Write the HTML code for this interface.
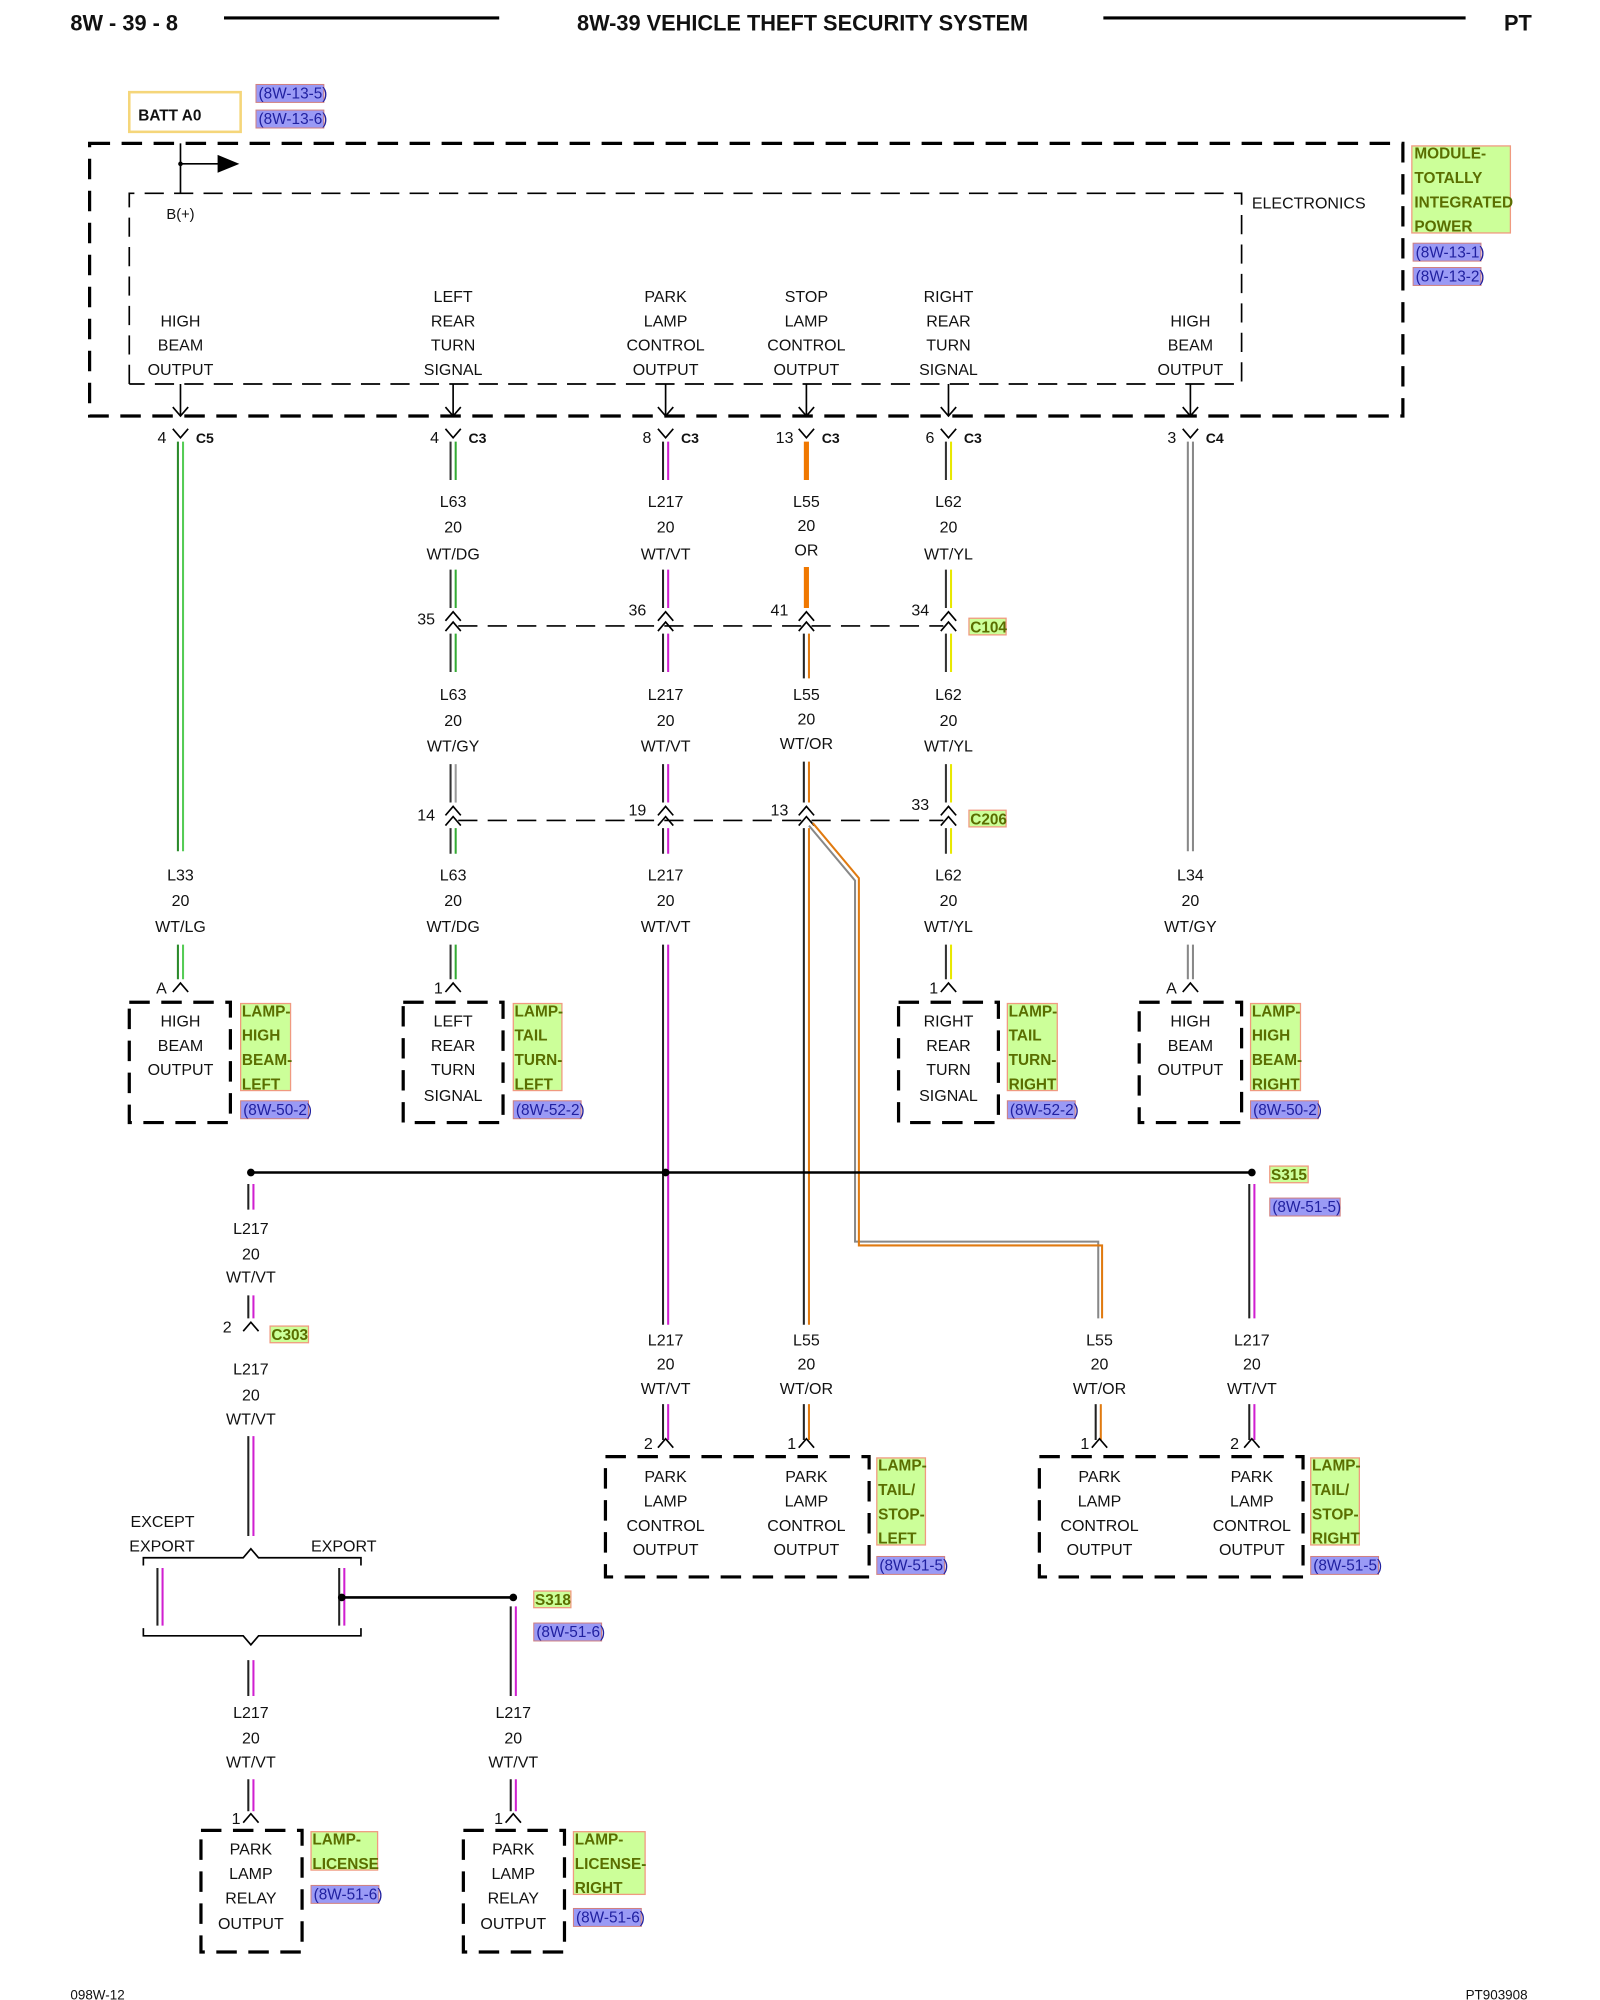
<!DOCTYPE html>
<html><head><meta charset="utf-8"><style>
html,body{margin:0;padding:0;background:#fff}
svg{display:block}
text{font-family:"Liberation Sans",sans-serif;font-size:12.5px;fill:#111}
.c{text-anchor:middle}
.b{font-weight:bold}
.d{fill:none;stroke:#000;stroke-width:2.5;stroke-dasharray:16 9}
.d2{fill:none;stroke:#000;stroke-width:1.3;stroke-dasharray:15 8}
.ln{fill:none;stroke:#000;stroke-width:1.3}
.g{fill:#ccff99;stroke:#f09a80;stroke-width:1}
.gt{fill:#5a6e00;font-weight:bold;font-size:12px}
.bl{fill:#9a9af5;stroke:#d08080;stroke-width:.8}
.bt{fill:#2020a0;font-size:12px}
</style></head><body>
<svg width="1600" height="2000" viewBox="0 0 1250 1562.5" preserveAspectRatio="none" xmlns="http://www.w3.org/2000/svg">
<defs>
<g id="cv"><path class="ln" d="M-6,4 L0,-3 L6,4"/></g>
<g id="cv2"><path class="ln" d="M-6,-4 L0,-11 L6,-4 M-6,4 L0,-3 L6,4"/></g>
<g id="cy"><path class="ln" d="M-6,-5 L0,2 L6,-5"/></g>
</defs>
<!-- header -->
<text x="55" y="24" class="b" style="font-size:17px">8W - 39 - 8</text>
<line x1="175" y1="14" x2="390" y2="14" stroke="#000" stroke-width="2.5"/>
<text x="627" y="24" class="c b" style="font-size:17px">8W-39 VEHICLE THEFT SECURITY SYSTEM</text>
<line x1="862" y1="14" x2="1145" y2="14" stroke="#000" stroke-width="2.5"/>
<text x="1175" y="24" class="b" style="font-size:17px">PT</text>
<text x="55" y="1562" style="font-size:10.5px">098W-12</text>
<text x="1145" y="1562" style="font-size:10.5px">PT903908</text>

<!-- BATT -->
<rect x="101" y="72" width="87" height="31" fill="#fff" stroke="#f5d67a" stroke-width="2"/>
<text x="108" y="94" class="b" style="font-size:12px">BATT A0</text>
<rect x="200" y="66" width="53" height="14" class="bl"/><text x="202" y="77" class="bt">(8W-13-5)</text>
<rect x="200" y="86" width="53" height="14" class="bl"/><text x="202" y="97" class="bt">(8W-13-6)</text>

<!-- module -->
<rect x="70" y="112" width="1026" height="213" class="d"/>
<path class="d2" d="M101,300 L101,151 L970,151 L970,300 L101,300"/>
<line x1="141" y1="112" x2="141" y2="151" class="ln"/>
<line x1="141" y1="128" x2="172" y2="128" class="ln"/>
<path d="M170,121 L187,128 L170,135Z"/>
<circle cx="141" cy="128" r="1.8"/>
<text x="130" y="171" style="font-size:11.5px">B(+)</text>
<text x="978" y="163">ELECTRONICS</text>
<rect x="1103" y="114" width="77" height="68" class="g"/>
<text x="1105" y="124" class="gt">MODULE-</text><text x="1105" y="143" class="gt">TOTALLY</text><text x="1105" y="162" class="gt">INTEGRATED</text><text x="1105" y="181" class="gt">POWER</text>
<rect x="1104" y="190" width="53" height="14" class="bl"/><text x="1106" y="201" class="bt">(8W-13-1)</text>
<rect x="1104" y="209" width="53" height="14" class="bl"/><text x="1106" y="220" class="bt">(8W-13-2)</text>

<g class="c">
<text x="141" y="255" class="c">HIGH</text><text x="141" y="274" class="c">BEAM</text><text x="141" y="293" class="c">OUTPUT</text>
<text x="354" y="236" class="c">LEFT</text><text x="354" y="255" class="c">REAR</text><text x="354" y="274" class="c">TURN</text><text x="354" y="293" class="c">SIGNAL</text>
<text x="520" y="236" class="c">PARK</text><text x="520" y="255" class="c">LAMP</text><text x="520" y="274" class="c">CONTROL</text><text x="520" y="293" class="c">OUTPUT</text>
<text x="630" y="236" class="c">STOP</text><text x="630" y="255" class="c">LAMP</text><text x="630" y="274" class="c">CONTROL</text><text x="630" y="293" class="c">OUTPUT</text>
<text x="741" y="236" class="c">RIGHT</text><text x="741" y="255" class="c">REAR</text><text x="741" y="274" class="c">TURN</text><text x="741" y="293" class="c">SIGNAL</text>
<text x="930" y="255" class="c">HIGH</text><text x="930" y="274" class="c">BEAM</text><text x="930" y="293" class="c">OUTPUT</text>
</g>
<!-- arrows out of module -->
<g class="ln">
<path d="M141,300V325M135,318L141,325L147,318"/>
<path d="M354,300V325M348,318L354,325L360,318"/>
<path d="M520,300V325M514,318L520,325L526,318"/>
<path d="M630,300V325M624,318L630,325L636,318"/>
<path d="M741,300V325M735,318L741,325L747,318"/>
<path d="M930,300V325M924,318L930,325L936,318"/>
</g>
<!-- top connectors -->
<use href="#cy" x="141" y="340"/><text x="123" y="346">4</text><text x="153" y="346" class="b" style="font-size:11px">C5</text>
<use href="#cy" x="354" y="340"/><text x="336" y="346">4</text><text x="366" y="346" class="b" style="font-size:11px">C3</text>
<use href="#cy" x="520" y="340"/><text x="502" y="346">8</text><text x="532" y="346" class="b" style="font-size:11px">C3</text>
<use href="#cy" x="630" y="340"/><text x="606" y="346">13</text><text x="642" y="346" class="b" style="font-size:11px">C3</text>
<use href="#cy" x="741" y="340"/><text x="723" y="346">6</text><text x="753" y="346" class="b" style="font-size:11px">C3</text>
<use href="#cy" x="930" y="340"/><text x="912" y="346">3</text><text x="942" y="346" class="b" style="font-size:11px">C4</text>

<!-- dashed connector lines -->
<line x1="358" y1="489" x2="737" y2="489" class="d2"/>
<line x1="358" y1="641" x2="737" y2="641" class="d2"/>
<use href="#cv2" x="354" y="489"/><use href="#cv2" x="520" y="489"/><use href="#cv2" x="630" y="489"/><use href="#cv2" x="741" y="489"/>
<use href="#cv2" x="354" y="641"/><use href="#cv2" x="520" y="641"/><use href="#cv2" x="630" y="641"/><use href="#cv2" x="741" y="641"/>
<text x="326" y="488">35</text><text x="491" y="481">36</text><text x="602" y="481">41</text><text x="712" y="481">34</text>
<text x="326" y="641">14</text><text x="491" y="637">19</text><text x="602" y="637">13</text><text x="712" y="633">33</text>
<rect x="757" y="483" width="29" height="13" class="g"/><text x="758" y="494" class="gt">C104</text>
<rect x="757" y="633" width="29" height="13" class="g"/><text x="758" y="644" class="gt">C206</text>

<!-- WIRES -->
<g stroke-width="1.6" fill="none">
<!-- col 141 green -->
<path d="M139,345V665M139,738V765" stroke="#2a8a2a"/><path d="M143,345V665M143,738V765" stroke="#5c5"/>
<!-- col 354 -->
<path d="M352,345V375M352,445V475M352,495V525M352,597V627M352,647V667M352,738V765" stroke="#333"/>
<path d="M356,345V375M356,445V475M356,495V525M356,647V667M356,738V765" stroke="#3a3"/>
<path d="M356,597V627" stroke="#999"/>
<!-- col 520 -->
<path d="M518,345V375M518,445V475M518,495V525M518,597V627M518,647V667M518,738V1035M518,1097V1125" stroke="#222"/>
<path d="M522,345V375M522,445V475M522,495V525M522,597V627M522,647V667M522,738V1035M522,1097V1125" stroke="#d020d0"/>
<!-- col 630 -->
<path d="M630,345V375M630,443V475" stroke="#f07800" stroke-width="4"/>
<path d="M628,495V530M628,595V627M628,647V1035M628,1097V1125" stroke="#222"/>
<path d="M632,495V530M632,595V627M632,647V1035M632,1097V1125" stroke="#e07a10"/>
<path d="M632,645L668,688V970H858V1030" stroke="#888"/>
<path d="M635,643L671,686V973H861V1030" stroke="#e07a10"/>
<path d="M856,1097V1125" stroke="#222"/><path d="M860,1097V1125" stroke="#e07a10"/>
<!-- col 741 -->
<path d="M739,345V375M739,445V475M739,495V525M739,597V627M739,647V667M739,738V765" stroke="#333"/>
<path d="M743,345V375M743,445V475M743,495V525M743,597V627M743,647V667M743,738V765" stroke="#e8e800"/>
<!-- col 930 -->
<path d="M928,345V665M932,345V665M928,738V765M932,738V765" stroke="#888"/>
<!-- col 978 -->
<path d="M976,925V1030M976,1097V1125" stroke="#222"/><path d="M980,925V1030M980,1097V1125" stroke="#d020d0"/>
<!-- col 196 -->
<path d="M194,925V945M194,1012V1030M194,1122V1200M194,1297V1325M194,1390V1415" stroke="#222"/>
<path d="M198,925V945M198,1012V1030M198,1122V1200M198,1297V1325M198,1390V1415" stroke="#d020d0"/>
<path d="M123,1225V1270M265,1225V1270" stroke="#222"/><path d="M127,1225V1270M269,1225V1270" stroke="#d020d0"/>
<!-- col 401 -->
<path d="M399,1255V1325M399,1390V1415" stroke="#222"/><path d="M403,1255V1325M403,1390V1415" stroke="#d020d0"/>
</g>

<!-- wire labels -->
<g>
<text x="141" y="688" class="c">L33</text><text x="141" y="708" class="c">20</text><text x="141" y="728" class="c">WT/LG</text>
<text x="354" y="396" class="c">L63</text><text x="354" y="416" class="c">20</text><text x="354" y="437" class="c">WT/DG</text>
<text x="354" y="547" class="c">L63</text><text x="354" y="567" class="c">20</text><text x="354" y="587" class="c">WT/GY</text>
<text x="354" y="688" class="c">L63</text><text x="354" y="708" class="c">20</text><text x="354" y="728" class="c">WT/DG</text>
<text x="520" y="396" class="c">L217</text><text x="520" y="416" class="c">20</text><text x="520" y="437" class="c">WT/VT</text>
<text x="520" y="547" class="c">L217</text><text x="520" y="567" class="c">20</text><text x="520" y="587" class="c">WT/VT</text>
<text x="520" y="688" class="c">L217</text><text x="520" y="708" class="c">20</text><text x="520" y="728" class="c">WT/VT</text>
<text x="630" y="396" class="c">L55</text><text x="630" y="415" class="c">20</text><text x="630" y="434" class="c">OR</text>
<text x="630" y="547" class="c">L55</text><text x="630" y="566" class="c">20</text><text x="630" y="585" class="c">WT/OR</text>
<text x="741" y="396" class="c">L62</text><text x="741" y="416" class="c">20</text><text x="741" y="437" class="c">WT/YL</text>
<text x="741" y="547" class="c">L62</text><text x="741" y="567" class="c">20</text><text x="741" y="587" class="c">WT/YL</text>
<text x="741" y="688" class="c">L62</text><text x="741" y="708" class="c">20</text><text x="741" y="728" class="c">WT/YL</text>
<text x="930" y="688" class="c">L34</text><text x="930" y="708" class="c">20</text><text x="930" y="728" class="c">WT/GY</text>
<text x="196" y="964" class="c">L217</text><text x="196" y="984" class="c">20</text><text x="196" y="1002" class="c">WT/VT</text>
<text x="196" y="1074" class="c">L217</text><text x="196" y="1094" class="c">20</text><text x="196" y="1113" class="c">WT/VT</text>
<text x="520" y="1051" class="c">L217</text><text x="520" y="1070" class="c">20</text><text x="520" y="1089" class="c">WT/VT</text>
<text x="630" y="1051" class="c">L55</text><text x="630" y="1070" class="c">20</text><text x="630" y="1089" class="c">WT/OR</text>
<text x="859" y="1051" class="c">L55</text><text x="859" y="1070" class="c">20</text><text x="859" y="1089" class="c">WT/OR</text>
<text x="978" y="1051" class="c">L217</text><text x="978" y="1070" class="c">20</text><text x="978" y="1089" class="c">WT/VT</text>
<text x="196" y="1342" class="c">L217</text><text x="196" y="1362" class="c">20</text><text x="196" y="1381" class="c">WT/VT</text>
<text x="401" y="1342" class="c">L217</text><text x="401" y="1362" class="c">20</text><text x="401" y="1381" class="c">WT/VT</text>
</g>

<!-- lamp connectors -->
<use href="#cv" x="141" y="771"/><text x="122" y="776">A</text>
<use href="#cv" x="354" y="771"/><text x="339" y="776">1</text>
<use href="#cv" x="741" y="771"/><text x="726" y="776">1</text>
<use href="#cv" x="930" y="771"/><text x="911" y="776">A</text>
<use href="#cv" x="520" y="1127"/><text x="503" y="1132">2</text>
<use href="#cv" x="630" y="1127"/><text x="615" y="1132">1</text>
<use href="#cv" x="859" y="1127"/><text x="844" y="1132">1</text>
<use href="#cv" x="978" y="1127"/><text x="961" y="1132">2</text>
<use href="#cv" x="196" y="1036"/><text x="174" y="1041">2</text>
<use href="#cv" x="196" y="1420"/><text x="181" y="1425">1</text>
<use href="#cv" x="401" y="1420"/><text x="386" y="1425">1</text>
<rect x="211" y="1036" width="30" height="13" class="g"/><text x="212" y="1047" class="gt">C303</text>

<!-- lamp boxes row 1 -->
<rect x="101" y="783" width="79" height="94" class="d"/>
<text x="141" y="802" class="c">HIGH</text><text x="141" y="821" class="c">BEAM</text><text x="141" y="840" class="c">OUTPUT</text>
<rect x="188" y="784" width="39" height="68" class="g"/><text x="189" y="794" class="gt">LAMP-</text><text x="189" y="813" class="gt">HIGH</text><text x="189" y="832" class="gt">BEAM-</text><text x="189" y="851" class="gt">LEFT</text>
<rect x="188" y="860" width="53" height="14" class="bl"/><text x="190" y="871" class="bt">(8W-50-2)</text>

<rect x="315" y="783" width="78" height="94" class="d"/>
<text x="354" y="802" class="c">LEFT</text><text x="354" y="821" class="c">REAR</text><text x="354" y="840" class="c">TURN</text><text x="354" y="860" class="c">SIGNAL</text>
<rect x="401" y="784" width="38" height="68" class="g"/><text x="402" y="794" class="gt">LAMP-</text><text x="402" y="813" class="gt">TAIL</text><text x="402" y="832" class="gt">TURN-</text><text x="402" y="851" class="gt">LEFT</text>
<rect x="401" y="860" width="53" height="14" class="bl"/><text x="403" y="871" class="bt">(8W-52-2)</text>

<rect x="702" y="783" width="78" height="94" class="d"/>
<text x="741" y="802" class="c">RIGHT</text><text x="741" y="821" class="c">REAR</text><text x="741" y="840" class="c">TURN</text><text x="741" y="860" class="c">SIGNAL</text>
<rect x="787" y="784" width="39" height="68" class="g"/><text x="788" y="794" class="gt">LAMP-</text><text x="788" y="813" class="gt">TAIL</text><text x="788" y="832" class="gt">TURN-</text><text x="788" y="851" class="gt">RIGHT</text>
<rect x="787" y="860" width="53" height="14" class="bl"/><text x="789" y="871" class="bt">(8W-52-2)</text>

<rect x="890" y="783" width="80" height="94" class="d"/>
<text x="930" y="802" class="c">HIGH</text><text x="930" y="821" class="c">BEAM</text><text x="930" y="840" class="c">OUTPUT</text>
<rect x="977" y="784" width="39" height="68" class="g"/><text x="978" y="794" class="gt">LAMP-</text><text x="978" y="813" class="gt">HIGH</text><text x="978" y="832" class="gt">BEAM-</text><text x="978" y="851" class="gt">RIGHT</text>
<rect x="977" y="860" width="53" height="14" class="bl"/><text x="979" y="871" class="bt">(8W-50-2)</text>

<!-- splice S315 -->
<line x1="196" y1="916" x2="978" y2="916" stroke="#000" stroke-width="2"/>
<circle cx="196" cy="916" r="3"/><circle cx="520" cy="916" r="3"/><circle cx="978" cy="916" r="3"/>
<rect x="992" y="911" width="30" height="13" class="g"/><text x="993" y="922" class="gt">S315</text>
<rect x="992" y="936" width="55" height="14" class="bl"/><text x="994" y="947" class="bt">(8W-51-5)</text>

<!-- row 2 boxes -->
<rect x="473" y="1138" width="206" height="94" class="d"/>
<text x="520" y="1158" class="c">PARK</text><text x="520" y="1177" class="c">LAMP</text><text x="520" y="1196" class="c">CONTROL</text><text x="520" y="1215" class="c">OUTPUT</text>
<text x="630" y="1158" class="c">PARK</text><text x="630" y="1177" class="c">LAMP</text><text x="630" y="1196" class="c">CONTROL</text><text x="630" y="1215" class="c">OUTPUT</text>
<rect x="685" y="1139" width="38" height="68" class="g"/><text x="686" y="1149" class="gt">LAMP-</text><text x="686" y="1168" class="gt">TAIL/</text><text x="686" y="1187" class="gt">STOP-</text><text x="686" y="1206" class="gt">LEFT</text>
<rect x="685" y="1216" width="53" height="14" class="bl"/><text x="687" y="1227" class="bt">(8W-51-5)</text>

<rect x="812" y="1138" width="206" height="94" class="d"/>
<text x="859" y="1158" class="c">PARK</text><text x="859" y="1177" class="c">LAMP</text><text x="859" y="1196" class="c">CONTROL</text><text x="859" y="1215" class="c">OUTPUT</text>
<text x="978" y="1158" class="c">PARK</text><text x="978" y="1177" class="c">LAMP</text><text x="978" y="1196" class="c">CONTROL</text><text x="978" y="1215" class="c">OUTPUT</text>
<rect x="1024" y="1139" width="38" height="68" class="g"/><text x="1025" y="1149" class="gt">LAMP-</text><text x="1025" y="1168" class="gt">TAIL/</text><text x="1025" y="1187" class="gt">STOP-</text><text x="1025" y="1206" class="gt">RIGHT</text>
<rect x="1024" y="1216" width="53" height="14" class="bl"/><text x="1026" y="1227" class="bt">(8W-51-5)</text>

<!-- export braces -->
<text x="102" y="1193">EXCEPT</text><text x="101" y="1212">EXPORT</text><text x="243" y="1212">EXPORT</text>
<path class="ln" d="M112,1223V1217H190L196,1210L202,1217H282V1223"/>
<path class="ln" d="M112,1272V1278H190L196,1285L202,1278H282V1272"/>
<line x1="267" y1="1248" x2="401" y2="1248" stroke="#000" stroke-width="2"/>
<circle cx="267" cy="1248" r="3"/><circle cx="401" cy="1248" r="3"/>
<rect x="417" y="1243" width="29" height="13" class="g"/><text x="418" y="1254" class="gt">S318</text>
<rect x="417" y="1268" width="53" height="14" class="bl"/><text x="419" y="1279" class="bt">(8W-51-6)</text>

<!-- bottom boxes -->
<rect x="157" y="1430" width="79" height="95" class="d"/>
<text x="196" y="1449" class="c">PARK</text><text x="196" y="1468" class="c">LAMP</text><text x="196" y="1487" class="c">RELAY</text><text x="196" y="1507" class="c">OUTPUT</text>
<rect x="243" y="1431" width="52" height="30" class="g"/><text x="244" y="1441" class="gt">LAMP-</text><text x="244" y="1460" class="gt">LICENSE</text>
<rect x="243" y="1473" width="53" height="14" class="bl"/><text x="245" y="1484" class="bt">(8W-51-6)</text>

<rect x="362" y="1430" width="79" height="95" class="d"/>
<text x="401" y="1449" class="c">PARK</text><text x="401" y="1468" class="c">LAMP</text><text x="401" y="1487" class="c">RELAY</text><text x="401" y="1507" class="c">OUTPUT</text>
<rect x="448" y="1431" width="56" height="49" class="g"/><text x="449" y="1441" class="gt">LAMP-</text><text x="449" y="1460" class="gt">LICENSE-</text><text x="449" y="1479" class="gt">RIGHT</text>
<rect x="448" y="1491" width="53" height="14" class="bl"/><text x="450" y="1502" class="bt">(8W-51-6)</text>
</svg>
</body></html>
